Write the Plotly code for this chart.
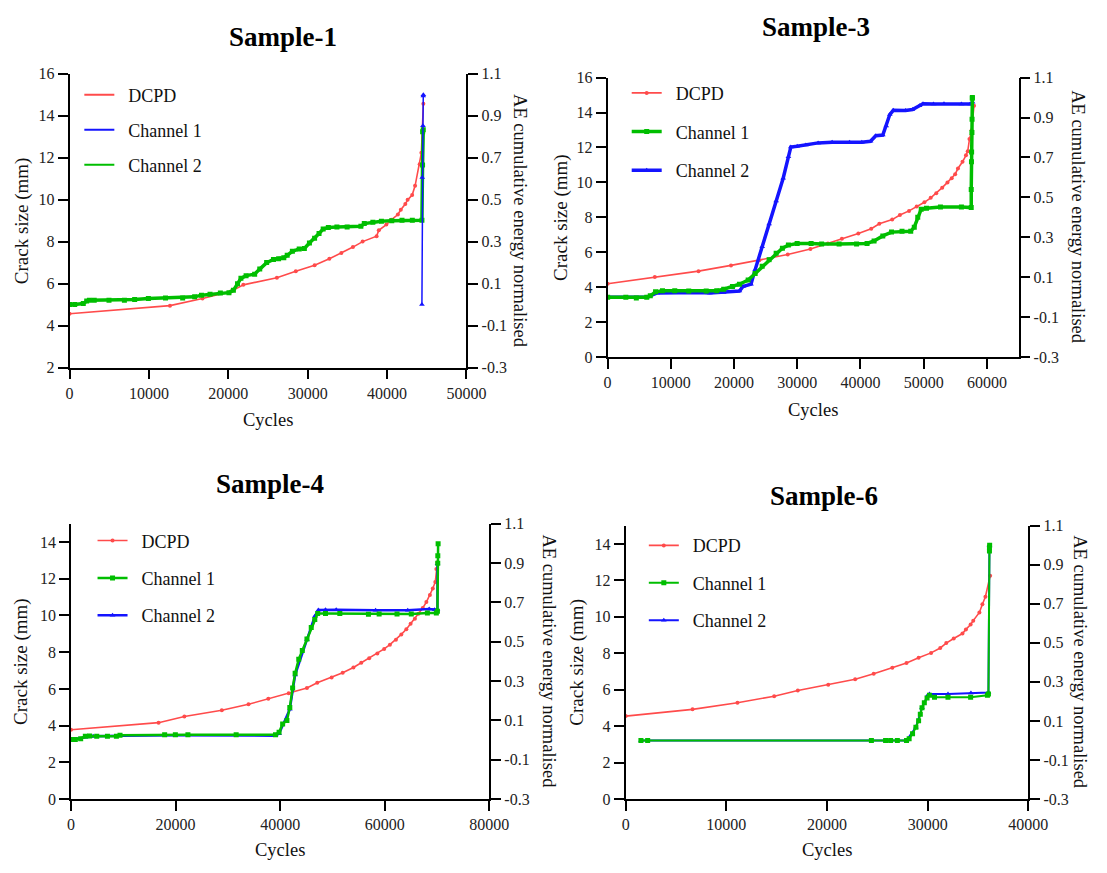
import plotly.graph_objects as go

# ---------------- data ----------------
# Sample-1
s1_dcpd_cycles = [0, 12650, 16750, 20380, 21890, 26120, 28500, 30870, 32730, 34240, 35700, 36920, 38680,
                  38960, 39910, 40530, 41360, 41730, 42300, 42590, 43160, 43530, 44110, 44320, 44570]
s1_dcpd_mm = [4.56, 4.95, 5.29, 5.63, 5.94, 6.28, 6.59, 6.87, 7.18, 7.46, 7.74, 8.0, 8.26,
              8.54, 8.81, 9.04, 9.29, 9.52, 9.79, 9.99, 10.22, 10.66, 11.69, 12.23, 14.57]
s1_ch1_cycles = [44390, 44430, 44520, 44560, 44570]
s1_ch1_energy = [0.0, 0.606, 0.852, 0.994, 1.0]
s1_ch2_cycles = [0, 650, 1730, 2160, 2500, 3110, 4970, 6910, 8200, 9930, 12090, 14250, 15760, 16620, 17700,
                 19000, 20080, 20640, 21160, 21590, 22240, 23320, 23960, 24830, 25690, 26340, 26990, 27420,
                 28070, 28930, 29580, 30220, 30870, 31430, 31950, 32600, 33680, 34970, 36700, 37130, 38210,
                 39290, 40590, 41880, 43180, 44390, 44470, 44480, 44560]
s1_ch2_energy = [0.0, 0.0, 0.005, 0.017, 0.021, 0.021, 0.021, 0.021, 0.024, 0.029, 0.032, 0.032, 0.037, 0.045,
                 0.049, 0.055, 0.057, 0.068, 0.099, 0.125, 0.138, 0.145, 0.169, 0.2, 0.215, 0.218, 0.223, 0.235,
                 0.254, 0.265, 0.267, 0.293, 0.316, 0.339, 0.36, 0.367, 0.37, 0.37, 0.373, 0.386, 0.392,
                 0.397, 0.4, 0.402, 0.402, 0.402, 0.665, 0.824, 0.833]

# Sample-3
s3_dcpd_cycles = [0, 7470, 14380, 19520, 24000, 28490, 32080, 34850, 37060, 39660, 41700, 42980, 45020, 46240,
                  47680, 48890, 50110, 51110, 51990, 52930, 53760, 54430, 54980, 55420, 56140, 56690, 56970,
                  57240, 57580, 57960]
s3_dcpd_mm = [4.2, 4.58, 4.92, 5.25, 5.55, 5.87, 6.19, 6.5, 6.77, 7.07, 7.35, 7.63, 7.87, 8.13,
              8.37, 8.62, 8.86, 9.12, 9.38, 9.7, 10.0, 10.24, 10.47, 10.8, 11.18, 11.55, 11.79,
              12.48, 12.99, 14.39]
s3_ch1_cycles = [0, 2880, 4540, 6190, 6750, 7580, 8680, 10620, 12830, 15600, 17260, 18360, 19750, 20850, 22230,
                 23340, 24450, 25550, 26660, 27650, 28600, 29980, 32190, 33850, 36620, 39380, 41040, 42150,
                 43530, 44910, 46570, 47950, 48510, 49060, 49610, 50440, 52650, 55970, 57520, 57520, 57560,
                 57580, 57630, 57650, 57690, 57700]
s3_ch1_energy = [0.0, 0.0, -0.004, 0.0, 0.007, 0.027, 0.032, 0.032, 0.031, 0.031, 0.032, 0.04, 0.053, 0.065,
                 0.086, 0.119, 0.155, 0.188, 0.22, 0.245, 0.261, 0.269, 0.269, 0.266, 0.266, 0.266, 0.269,
                 0.282, 0.307, 0.326, 0.33, 0.33, 0.351, 0.4, 0.441, 0.446, 0.452, 0.452, 0.449, 0.539,
                 0.678, 0.727, 0.825, 0.891, 0.997, 1.0]
s3_ch2_cycles = [0, 6190, 7850, 10620, 14490, 16150, 18360, 20850, 21400, 22680, 23340, 24450, 25550, 26660,
                 27770, 28600, 28980, 29980, 31360, 33300, 35510, 38270, 40210, 41590, 42420, 43530, 44080,
                 44640, 45190, 47120, 48230, 49340, 49890, 51550, 53210, 55970, 57350, 57740]
s3_ch2_energy = [0.0, 0.0, 0.021, 0.024, 0.024, 0.021, 0.024, 0.031, 0.053, 0.065, 0.138, 0.253, 0.367, 0.482,
                 0.596, 0.703, 0.752, 0.756, 0.763, 0.773, 0.776, 0.776, 0.776, 0.781, 0.809, 0.812, 0.858,
                 0.915, 0.936, 0.935, 0.94, 0.959, 0.969, 0.968, 0.969, 0.968, 0.968, 0.976]

# Sample-4
s4_dcpd_cycles = [0, 16750, 21680, 28850, 33950, 37740, 41640, 45130, 47100, 49850, 51970, 54020, 55520, 57030,
                  58600, 59900, 61000, 62150, 63180, 64140, 64960, 65780, 66460, 67280, 67970, 68650, 69200,
                  69680, 69880, 70090]
s4_dcpd_mm = [3.77, 4.16, 4.5, 4.84, 5.16, 5.46, 5.76, 6.05, 6.33, 6.62, 6.88, 7.17, 7.42, 7.67,
              7.93, 8.18, 8.41, 8.68, 8.97, 9.25, 9.55, 9.82, 10.1, 10.41, 10.73, 11.12, 11.47,
              11.83, 12.54, 12.9]
s4_ch1_cycles = [0, 820, 1850, 2740, 3560, 4920, 6970, 8680, 9370, 17910, 19960, 22360, 31590, 39110, 39800,
                 40480, 41300, 41850, 42390, 42870, 43560, 44240, 45130, 45950, 46630, 47180, 48680, 51420,
                 56890, 58940, 62360, 65090, 68170, 69880, 70090, 70150, 70160, 70220]
s4_ch1_energy = [0.002, 0.002, 0.007, 0.019, 0.02, 0.019, 0.019, 0.019, 0.024, 0.027, 0.027, 0.027, 0.027,
                 0.027, 0.04, 0.082, 0.099, 0.165, 0.265, 0.339, 0.411, 0.455, 0.514, 0.572, 0.613, 0.643,
                 0.643, 0.643, 0.64, 0.641, 0.641, 0.641, 0.646, 0.646, 0.655, 0.899, 0.937, 0.998]
s4_ch2_cycles = [0, 4240, 9710, 19960, 39110, 39800, 41850, 42870, 45130, 46630, 47320, 48680, 50730, 58260,
                 64410, 68510, 69540, 70090, 70100]
s4_ch2_energy = [0.002, 0.019, 0.022, 0.024, 0.022, 0.032, 0.157, 0.331, 0.511, 0.63, 0.661, 0.663, 0.663,
                 0.66, 0.66, 0.666, 0.663, 0.663, 0.896]

# Sample-6
s6_dcpd_cycles = [0, 6640, 11100, 14750, 17100, 20120, 22800, 24640, 26490, 27900, 29100, 30340, 31250, 31850,
                  32590, 33460, 33800, 34270, 34530, 35140, 35440, 35740, 36210]
s6_dcpd_mm = [4.55, 4.92, 5.28, 5.64, 5.96, 6.27, 6.57, 6.87, 7.2, 7.47, 7.75, 8.02, 8.29, 8.56,
              8.81, 9.08, 9.31, 9.58, 9.79, 10.24, 10.69, 11.1, 12.26]
s6_ch1_cycles = [1510, 2180, 24410, 25820, 26320, 26990, 27900, 28160, 28500, 28830, 29100, 29270, 29440,
                 29670, 29940, 30180, 30680, 32020, 34270, 35940, 36040, 36140, 36140, 36160]
s6_ch1_energy = [0.0, 0.0, 0.0, 0.0, 0.0, 0.0, 0.0, 0.009, 0.034, 0.067, 0.101, 0.134, 0.168,
                 0.193, 0.218, 0.231, 0.221, 0.221, 0.221, 0.231, 0.238, 0.97, 0.99, 1.0]
s6_ch2_cycles = [1510, 27900, 28830, 29440, 30010, 30180, 32020, 34300, 36040, 36140]
s6_ch2_energy = [0.0, 0.0, 0.067, 0.168, 0.231, 0.238, 0.238, 0.243, 0.246, 1.0]

ae_tick_vals = [-0.3, -0.1, 0.1, 0.3, 0.5, 0.7, 0.9, 1.1]
ae_tick_text = ["-0.3", "-0.1", "0.1", "0.3", "0.5", "0.7", "0.9", "1.1"]
titles = ["Sample-1", "Sample-3", "Sample-4", "Sample-6"]
series_names = ["DCPD", "Channel 1", "Channel 2"]

# ---------------- styling / layout ----------------
W, H = 1107, 873
SERIF = "Liberation Serif"
RED, BLUE, GREEN = "#FF4B4B", "#1414FF", "#00BE00"
NB = "\u00a0\u00a0"


def fx(p):
    return p / W


def fy(p):
    return 1 - p / H


panels = [
    dict(title=titles[0], xdom=(67, 472.7), ydom=(67, 366.7), xr=[0, 50000], xd=10000, yr=[2, 16],
         title_xy=(285, 30), ylab_x=18, rlab_x=528, xlab_y=420, legend_xy=(77, 70), gap=8.5),
    dict(title=titles[1], xdom=(617, 1037), ydom=(71, 356), xr=[0, 65000], xd=10000, yr=[0, 16],
         title_xy=(830, 19), ylab_x=570, rlab_x=1097, xlab_y=410, legend_xy=(636.5, 68), gap=12.3),
    dict(title=titles[2], xdom=(68.5, 496), ydom=(526, 806.7), xr=[0, 80000], xd=20000, yr=[0, 15],
         title_xy=(272, 485), ylab_x=18, rlab_x=557, xlab_y=859, legend_xy=(90.5, 524.5), gap=11),
    dict(title=titles[3], xdom=(635.5, 1047), ydom=(528, 806.7), xr=[0, 40000], xd=10000, yr=[0, 15],
         title_xy=(838, 498), ylab_x=586, rlab_x=1099, xlab_y=859, legend_xy=(654, 529.5), gap=11),
]

data = [
    (s1_dcpd_cycles, s1_dcpd_mm, s1_ch1_cycles, s1_ch1_energy, s1_ch2_cycles, s1_ch2_energy),
    (s3_dcpd_cycles, s3_dcpd_mm, s3_ch1_cycles, s3_ch1_energy, s3_ch2_cycles, s3_ch2_energy),
    (s4_dcpd_cycles, s4_dcpd_mm, s4_ch1_cycles, s4_ch1_energy, s4_ch2_cycles, s4_ch2_energy),
    (s6_dcpd_cycles, s6_dcpd_mm, s6_ch1_cycles, s6_ch1_energy, s6_ch2_cycles, s6_ch2_energy),
]

# colours of channels per panel (Sample-1: ch1 blue, ch2 green; others: ch1 green, ch2 blue)
ch_colors = [(BLUE, GREEN), (GREEN, BLUE), (GREEN, BLUE), (GREEN, BLUE)]
ch_symbols = [("triangle-up", "square"), ("square", "triangle-up"), ("square", "triangle-up"),
              ("square", "triangle-up")]
ch1_width = [1.5, 3.5, 2.5, 2.0]
ch2_width = [3.5, 3.5, 2.5, 2.0]

fig = go.Figure()
layout = dict(width=W, height=H, margin=dict(l=0, r=0, t=0, b=0), plot_bgcolor="white",
              paper_bgcolor="white", showlegend=True, annotations=[],
              font=dict(family=SERIF, color="#111"))

axis_common = dict(showline=True, linecolor="black", linewidth=1.8, ticks="outside", ticklen=10,
                   tickwidth=1.8, tickcolor="black", showgrid=False, zeroline=False,
                   tickfont=dict(family=SERIF, size=16, color="#222"))

for i, (p, d) in enumerate(zip(panels, data), start=1):
    xa = "x" if i == 1 else f"x{i}"
    yl = "y" if i == 1 else f"y{2 * i - 1}"
    yr = f"y{2 * i}"
    leg = "legend" if i == 1 else f"legend{i}"
    dc, dm, c1x, c1y, c2x, c2y = d
    col1, col2 = ch_colors[i - 1]
    sym1, sym2 = ch_symbols[i - 1]
    show = i != 1

    dcpd = go.Scatter(x=dc, y=dm, mode="lines+markers", name=NB + series_names[0],
                      line=dict(color=RED, width=1.6), marker=dict(color=RED, size=4, symbol="circle"),
                      xaxis=xa, yaxis=yl, legend=leg, legendgroup=f"g{i}a", legendrank=1, showlegend=show)
    ch1 = go.Scatter(x=c1x, y=c1y, mode="lines+markers", name=NB + series_names[1],
                     line=dict(color=col1, width=ch1_width[i - 1]), marker=dict(color=col1, size=5, symbol=sym1),
                     xaxis=xa, yaxis=yr, legend=leg, legendgroup=f"g{i}b", legendrank=2, showlegend=show)
    ch2 = go.Scatter(x=c2x, y=c2y, mode="lines+markers", name=NB + series_names[2],
                     line=dict(color=col2, width=ch2_width[i - 1]), marker=dict(color=col2, size=5, symbol=sym2),
                     xaxis=xa, yaxis=yr, legend=leg, legendgroup=f"g{i}c", legendrank=3, showlegend=show)
    fig.add_trace(dcpd)
    fig.add_trace(ch2)
    fig.add_trace(ch1)
    if i == 1:
        # legend entries for Sample-1 are drawn as plain lines
        for k, (nm, cc) in enumerate(zip(series_names, [RED, BLUE, GREEN])):
            fig.add_trace(go.Scatter(x=[None], y=[None], mode="lines", name=NB + nm,
                                     line=dict(color=cc, width=2), xaxis=xa, yaxis=yl, legend=leg,
                                     legendgroup=f"g{i}{k}", legendrank=k + 1, showlegend=True))

    xkey = "xaxis" if i == 1 else f"xaxis{i}"
    ylkey = "yaxis" if i == 1 else f"yaxis{2 * i - 1}"
    yrkey = f"yaxis{2 * i}"
    layout[xkey] = dict(axis_common, domain=[fx(p["xdom"][0]), fx(p["xdom"][1])], range=p["xr"],
                        dtick=p["xd"], tick0=0, tickformat="d", anchor=yl)
    layout[ylkey] = dict(axis_common, domain=[fy(p["ydom"][1]), fy(p["ydom"][0])], range=p["yr"],
                         dtick=2, tick0=0, anchor=xa)
    layout[yrkey] = dict(axis_common, overlaying=yl, side="right", anchor=xa, range=[-0.3, 1.1],
                         tickvals=ae_tick_vals, ticktext=ae_tick_text)
    layout[leg] = dict(x=fx(p["legend_xy"][0]), y=fy(p["legend_xy"][1]), xanchor="left", yanchor="top",
                       bgcolor="rgba(0,0,0,0)", font=dict(family=SERIF, size=18, color="#111"),
                       tracegroupgap=p["gap"], traceorder="grouped")

    ymid = (p["ydom"][0] + p["ydom"][1]) / 2
    xmid = (p["xdom"][0] + p["xdom"][1]) / 2
    layout["annotations"] += [
        dict(text=f"<b>{p['title']}</b>", x=fx(p["title_xy"][0]), y=fy(p["title_xy"][1]), xref="paper",
             yref="paper", showarrow=False, xanchor="center", yanchor="middle",
             font=dict(family=SERIF, size=27, color="black")),
        dict(text="Crack size (mm)", x=fx(p["ylab_x"]), y=fy(ymid), xref="paper", yref="paper",
             showarrow=False, textangle=-90, xanchor="center", yanchor="middle",
             font=dict(family=SERIF, size=19, color="#111")),
        dict(text="AE cumulative energy normalised", x=fx(p["rlab_x"]), y=fy(ymid), xref="paper",
             yref="paper", showarrow=False, textangle=90, xanchor="center", yanchor="middle",
             font=dict(family=SERIF, size=18.5, color="#111")),
        dict(text="Cycles", x=fx(xmid), y=fy(p["xlab_y"]), xref="paper", yref="paper", showarrow=False,
             xanchor="center", yanchor="middle", font=dict(family=SERIF, size=18.5, color="#111")),
    ]

fig.update_layout(**layout)
fig.write_html("out.html")
